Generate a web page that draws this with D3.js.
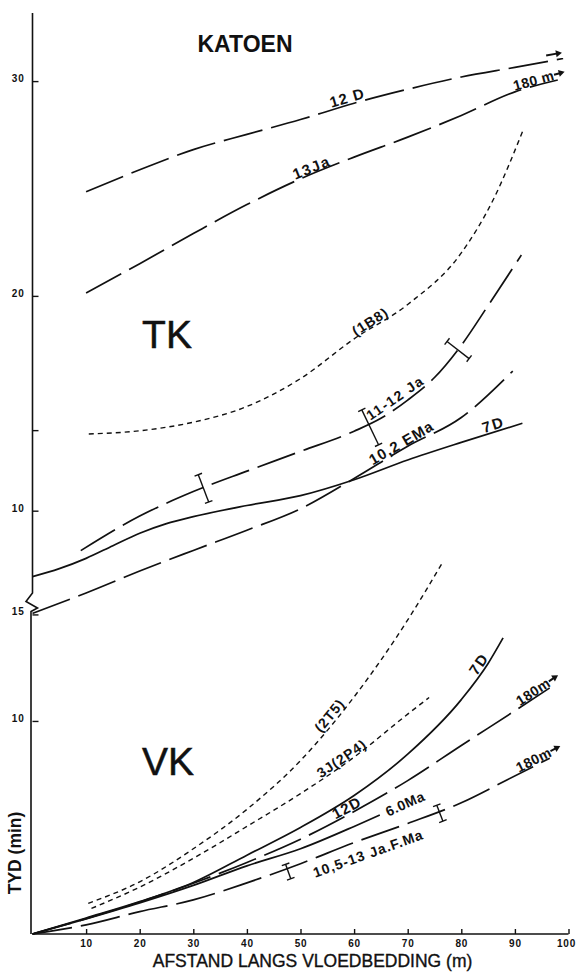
<!DOCTYPE html>
<html>
<head>
<meta charset="utf-8">
<script src="https://cdn.jsdelivr.net/npm/d3@7"></script>
<style>
  body { margin: 0; background: #fff; }
  svg { display: block; }
  text { font-family: "Liberation Sans", Arial, sans-serif; fill: #111; }
</style>
</head>
<body>
<div id="chart-area"></div>
<script>
// ---- data (x = afstand in m, y = tyd in min) ----
const xTicks = [10, 20, 30, 40, 50, 60, 70, 80, 90, 100];
const tkTicks = [10, 20, 30];
const tkMinorTicks = [13.75];
const vkTicks = [10, 15];

// TK panel
const tk12D_x = [10, 20, 30, 40, 50, 60, 70, 80, 90, 99];
const tk12D_y = [24.85, 25.87, 26.81, 27.52, 28.21, 28.97, 29.62, 30.19, 30.64, 31.05];
const tk13Ja_x = [10, 20, 30, 40, 50, 60, 70, 80, 90, 98];
const tk13Ja_y = [20.14, 21.5, 22.9, 24.25, 25.45, 26.46, 27.39, 28.4, 29.5, 30.05];
const tk1B8_x = [10.5, 20, 30, 40, 50, 60, 70, 80, 86, 91.5];
const tk1B8_y = [13.57, 13.72, 14.12, 14.85, 16.15, 18.0, 19.6, 22.0, 24.5, 27.7];
const tk1112Ja_x = [9, 20, 30, 40, 50, 60, 65, 70, 75, 80, 85, 91.2];
const tk1112Ja_y = [8.14, 9.75, 10.89, 11.84, 12.76, 13.7, 14.3, 15.15, 16.2, 17.7, 19.55, 21.9];
const tk7D_x = [0, 5, 10, 15, 20, 25, 30, 40, 50, 60, 70, 80, 91.4];
const tk7D_y = [6.93, 7.3, 7.78, 8.37, 8.95, 9.4, 9.72, 10.24, 10.7, 11.44, 12.36, 13.18, 14.07];
const tkEMa_x = [0, 10, 20, 30, 40, 50, 60, 70, 80, 89.6];
const tkEMa_y = [5.22, 6.17, 7.19, 8.15, 9.09, 10.09, 11.5, 13.0, 14.34, 16.5];
// error bars on 11-12 Ja
const tkErr_x = [31.9, 63, 79.4];
const tkErr_y = [11.04, 13.88, 17.48];
const tkErr_half = [0.68, 0.9, 0.65];

// VK panel
const vk2T5_x = [10.4, 20, 30, 40, 50, 60, 70, 76.6];
const vk2T5_y = [1.44, 2.45, 4.0, 5.85, 8.14, 11.13, 14.74, 17.48];
const vk3J_x = [11, 20, 30, 40, 50, 60, 70, 74];
const vk3J_y = [1.2, 2.2, 3.55, 5.05, 6.59, 8.3, 10.32, 11.1];
const vk7D_x = [0, 10, 20, 30, 40, 50, 60, 70, 80, 85, 87.8];
const vk7D_y = [0, 0.75, 1.52, 2.42, 3.7, 5.0, 6.5, 8.44, 11.0, 12.7, 13.9];
const vk12D_x = [0, 10, 20, 30, 40, 50, 60, 70, 80, 90, 96.5];
const vk12D_y = [0, 0.72, 1.5, 2.38, 3.36, 4.45, 5.75, 7.2, 8.85, 10.48, 11.55];
const vk6Ma_x = [0, 10, 20, 30, 40, 50, 60, 64.8];
const vk6Ma_y = [0, 0.71, 1.46, 2.28, 3.2, 4.0, 5.05, 5.59];
const vk105_x = [0, 10, 20, 30, 40, 50, 60, 70, 80, 88.5, 96.5];
const vk105_y = [0, 0.43, 1.05, 1.6, 2.4, 3.3, 4.29, 5.19, 6.16, 7.23, 8.25];
const vkErr_x = [47.7, 76];
const vkErr_y = [2.93, 5.67];
const vkErr_half = [0.36, 0.4];

(() => {

  const widthSvg = 577;
  const heightSvg = 976;
  const x0 = 32.5;

  const x = d3.scaleLinear().domain([0, 100]).range([x0, 568.5]);
  const yTop = d3.scaleLinear().domain([5.19, 33.17]).range([614, 13]);
  const yBot = d3.scaleLinear().domain([0, 15.02]).range([934, 614]);

  const svg = d3.select('#chart-area').append('svg')
    .attr('width', widthSvg)
    .attr('height', heightSvg);

  const DASH_LONG = '40,9';
  const DASH_SHORT = '5,4';

  const series = {
    tk12D: { xs: tk12D_x, ys: tk12D_y, y: yTop, dash: DASH_LONG },
    tk13Ja: { xs: tk13Ja_x, ys: tk13Ja_y, y: yTop, dash: DASH_LONG },
    tk1B8: { xs: tk1B8_x, ys: tk1B8_y, y: yTop, dash: DASH_SHORT },
    tk1112Ja: { xs: tk1112Ja_x, ys: tk1112Ja_y, y: yTop, dash: DASH_LONG },
    tk7D: { xs: tk7D_x, ys: tk7D_y, y: yTop, dash: null },
    tkEMa: { xs: tkEMa_x, ys: tkEMa_y, y: yTop, dash: DASH_LONG },
    vk2T5: { xs: vk2T5_x, ys: vk2T5_y, y: yBot, dash: DASH_SHORT },
    vk3J: { xs: vk3J_x, ys: vk3J_y, y: yBot, dash: DASH_SHORT },
    vk7D: { xs: vk7D_x, ys: vk7D_y, y: yBot, dash: null },
    vk12D: { xs: vk12D_x, ys: vk12D_y, y: yBot, dash: DASH_LONG },
    vk6Ma: { xs: vk6Ma_x, ys: vk6Ma_y, y: yBot, dash: null },
    vk105: { xs: vk105_x, ys: vk105_y, y: yBot, dash: DASH_LONG },
  };

  // linear interpolation (with extrapolation past the ends)
  const interp = (xs, ys, v) => {
    let i = d3.bisectLeft(xs, v);
    i = Math.max(1, Math.min(xs.length - 1, i));
    const t = (v - xs[i - 1]) / (xs[i] - xs[i - 1]);
    return ys[i - 1] + t * (ys[i] - ys[i - 1]);
  };

  const pt = (s, v) => [x(v), s.y(interp(s.xs, s.ys, v))];
  const angleAt = (s, v) => {
    const a = pt(s, v - 1.5), b = pt(s, v + 1.5);
    return Math.atan2(b[1] - a[1], b[0] - a[0]);
  };

  // ---- axes ----
  const axisX = d3.axisBottom(x)
    .tickValues(xTicks)
    .tickSizeInner(-5)
    .tickSizeOuter(0)
    .tickPadding(6);

  const gx = svg.append('g')
    .attr('transform', `translate(0, ${yBot(0)})`)
    .call(axisX);

  const axisTop = d3.axisLeft(yTop)
    .tickValues(tkTicks)
    .tickSizeInner(-6)
    .tickSizeOuter(0)
    .tickPadding(8);

  const gyTop = svg.append('g')
    .attr('transform', `translate(${x0}, 0)`)
    .call(axisTop);

  const gyTopMinor = svg.append('g')
    .attr('transform', `translate(${x0}, 0)`)
    .call(d3.axisLeft(yTop).tickValues(tkMinorTicks).tickSizeInner(-6).tickSizeOuter(0).tickFormat(''));

  const axisBot = d3.axisLeft(yBot)
    .tickValues(vkTicks)
    .tickSizeInner(-6)
    .tickSizeOuter(0)
    .tickPadding(8);

  const gyBot = svg.append('g')
    .attr('transform', `translate(${x0}, 0)`)
    .call(axisBot);

  [gx, gyTop, gyTopMinor, gyBot].forEach(g => {
    g.select('.domain').remove();
    g.selectAll('.tick line').attr('stroke', '#111').attr('stroke-width', 1.4);
    g.selectAll('.tick text')
      .attr('font-family', '"Liberation Sans", Arial, sans-serif')
      .attr('font-size', 10)
      .attr('font-weight', 'bold')
      .attr('letter-spacing', 0.8)
      .attr('fill', '#111');
  });
  gyTop.selectAll('.tick text').attr('dy', '0.05em');
  gyBot.selectAll('.tick text').attr('dy', '0.05em');
  // last x label sits against the right edge
  gx.selectAll('.tick text').filter(d => d === 100).attr('dx', -2.5);

  // x baseline
  svg.append('line')
    .attr('x1', x(0)).attr('x2', x(100))
    .attr('y1', yBot(0)).attr('y2', yBot(0))
    .attr('stroke', '#111').attr('stroke-width', 1.6);

  // y axis line with break between the two panels
  const brk = 593;
  svg.append('path')
    .attr('d', `M${x0},13 V${brk} l-6.5,8.5 l11.5,6.5 l-6.5,3.5 V${yBot(0)}`)
    .attr('fill', 'none')
    .attr('stroke', '#111')
    .attr('stroke-width', 1.6);

  // ---- curves ----
  const curves = svg.append('g').attr('fill', 'none').attr('stroke', '#111');

  Object.values(series).forEach(s => {
    const line = d3.line()
      .x(d => x(d[0]))
      .y(d => s.y(d[1]))
      .curve(d3.curveMonotoneX);
    curves.append('path')
      .datum(d3.zip(s.xs, s.ys))
      .attr('d', line)
      .attr('stroke-width', s.dash === DASH_SHORT ? 1.4 : 1.7)
      .attr('stroke-dasharray', s.dash);
  });

  // ---- error bars (drawn across the curve) ----
  const errBar = (s, v, c, half) => {
    const px = x(v), py = s.y(c);
    const a = angleAt(s, v);
    const len = Math.abs(s.y(c + half) - s.y(c));
    const nx = -Math.sin(a), ny = Math.cos(a);   // normal to curve
    const tx = Math.cos(a), ty = Math.sin(a);    // along curve
    const p1 = [px - nx * len, py - ny * len];
    const p2 = [px + nx * len, py + ny * len];
    const cap = 4;
    const g = svg.append('g').attr('stroke', '#111').attr('stroke-width', 1.4);
    g.append('line').attr('x1', p1[0]).attr('y1', p1[1]).attr('x2', p2[0]).attr('y2', p2[1]);
    [p1, p2].forEach(p => {
      g.append('line')
        .attr('x1', p[0] - tx * cap).attr('y1', p[1] - ty * cap)
        .attr('x2', p[0] + tx * cap).attr('y2', p[1] + ty * cap);
    });
  };

  tkErr_x.forEach((v, i) => errBar(series.tk1112Ja, v, tkErr_y[i], tkErr_half[i]));
  vkErr_x.forEach((v, i) => errBar(series.vk105, v, vkErr_y[i], vkErr_half[i]));

  // ---- curve labels ----
  const arrow = (g, xa, ya, len) => {
    g.append('line')
      .attr('x1', xa).attr('y1', ya)
      .attr('x2', xa + len - 4).attr('y2', ya)
      .attr('stroke', '#111').attr('stroke-width', 2);
    g.append('path')
      .attr('d', `M${xa + len},${ya} l-6,-3.5 v7 z`)
      .attr('fill', '#111');
  };

  const label = (s, v, text, off, size, spacing, withArrow) => {
    const [px, py] = pt(s, v);
    const a = angleAt(s, v) * 180 / Math.PI;
    const g = svg.append('g')
      .attr('transform', `translate(${px}, ${py}) rotate(${a})`);
    const t = g.append('text')
      .attr('y', off)
      .attr('text-anchor', 'middle')
      .attr('font-size', size)
      .attr('font-weight', 'bold')
      .attr('letter-spacing', spacing)
      .text(text);
    if (withArrow) {
      const w = t.node().getComputedTextLength();
      arrow(g, w / 2, off - size * 0.36, 11);
    }
  };

  const arrowOn = (s, v, off) => {
    const [px, py] = pt(s, v);
    const a = angleAt(s, v) * 180 / Math.PI;
    const g = svg.append('g')
      .attr('transform', `translate(${px}, ${py}) rotate(${a})`);
    arrow(g, -8, off, 16);
  };

  label(series.tk12D, 59.1, '12 D', -2, 15, 1);
  arrowOn(series.tk12D, 97.5, -6);
  label(series.tk13Ja, 52.5, '13Ja', -1, 15, 1.5);
  label(series.tk13Ja, 93.8, '180 m', -1, 14, 0.5, true);
  label(series.tk1B8, 63.6, '(1B8)', -1, 14, 1);
  label(series.tk1112Ja, 68.6, '11-12 Ja', -4, 14, 1.5);
  label(series.tkEMa, 69.4, '10,2 EMa', -1, 15, 1);
  label(series.tk7D, 86.4, '7D', -2, 15, 2);

  label(series.vk2T5, 56.4, '(2T5)', -2, 14, 1);
  label(series.vk3J, 58.3, '3J(2P4)', -1, 14, 1);
  label(series.vk7D, 84.4, '7D', -2, 15, 2);
  label(series.vk12D, 59.2, '12D', -1.5, 15, 1);
  label(series.vk6Ma, 69.5, '6.0Ma', 5, 14, 0.5);
  label(series.vk105, 61.7, '10,5-13 Ja.F.Ma', 20, 14, 1);
  label(series.vk12D, 94, '180m', -1, 14, 0.5, true);
  label(series.vk105, 94, '180m', -1, 14, 0.5, true);

  // ---- panel titles and axis titles ----
  svg.append('text')
    .attr('x', 245).attr('y', 51.5)
    .attr('text-anchor', 'middle')
    .attr('font-size', 23)
    .attr('font-weight', 'bold')
    .text('KATOEN');

  svg.append('text')
    .attr('x', 167).attr('y', 348)
    .attr('text-anchor', 'middle')
    .attr('font-size', 39)
    .attr('stroke', '#111')
    .attr('stroke-width', 0.5)
    .text('TK');

  svg.append('text')
    .attr('x', 168).attr('y', 775)
    .attr('text-anchor', 'middle')
    .attr('font-size', 39)
    .attr('stroke', '#111')
    .attr('stroke-width', 0.5)
    .text('VK');

  svg.append('text')
    .attr('transform', `translate(21, 853) rotate(-90)`)
    .attr('text-anchor', 'middle')
    .attr('font-size', 17.5)
    .attr('font-weight', 'bold')
    .text('TYD (min)');

  svg.append('text')
    .attr('x', 312.5).attr('y', 967)
    .attr('text-anchor', 'middle')
    .attr('font-size', 17.5)
    .attr('stroke', '#111')
    .attr('stroke-width', 0.35)
    .text('AFSTAND LANGS VLOEDBEDDING (m)');

})();
</script>
</body>
</html>
